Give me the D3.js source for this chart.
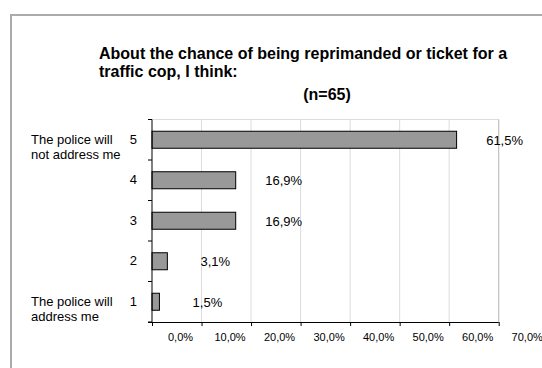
<!DOCTYPE html>
<html>
<head>
<meta charset="utf-8">
<script src="https://cdn.jsdelivr.net/npm/d3@7"></script>
<style>
  html, body { margin: 0; padding: 0; background: #fff; }
  svg { display: block; font-family: "Liberation Sans", Arial, sans-serif; }
</style>
</head>
<body>
<svg id="chart" width="542" height="368"></svg>
<script>
// Survey answers on a 1..5 scale, share of respondents (%)
const categories = ["5", "4", "3", "2", "1"];
const values = [61.5, 16.9, 16.9, 3.1, 1.5];
const valueLabels = ["61,5%", "16,9%", "16,9%", "3,1%", "1,5%"];
const endLabels = { "5": ["The police will", "not address me"], "1": ["The police will", "address me"] };
const xTicks = [0, 10, 20, 30, 40, 50, 60, 70];
const xTickLabels = ["0,0%", "10,0%", "20,0%", "30,0%", "40,0%", "50,0%", "60,0%", "70,0%"];
const titleLines = ["About the chance of being reprimanded or ticket for a", "traffic cop, I think:"];
const subtitle = "(n=65)";

const svg = d3.select("#chart");

// Outer chart frame (continues past the right and bottom edges)
svg.append("path")
  .attr("d", "M11,380 V15 H560")
  .attr("fill", "none")
  .attr("stroke", "#ababab")
  .attr("stroke-width", 2);

const plot = { left: 152, right: 498.7, top: 119.5, bottom: 322 };

const x = d3.scaleLinear().domain([0, 70]).range([plot.left, plot.right]);
const y = d3.scaleBand().domain(categories).range([plot.top, plot.bottom])
  .paddingInner(0.58).paddingOuter(0.29);

// Title
const title = svg.append("g").attr("font-weight", "bold").attr("font-size", 16).attr("fill", "#000");
title.selectAll("text.t").data(titleLines).join("text")
  .attr("class", "t")
  .attr("x", 99)
  .attr("y", (d, i) => 59 + i * 18)
  .text(d => d);
title.append("text")
  .attr("x", 327).attr("y", 100)
  .attr("text-anchor", "middle")
  .text(subtitle);

// Vertical gridlines
svg.append("g").selectAll("line").data(xTicks.filter(t => t > 0 && t < 70)).join("line")
  .attr("x1", d => x(d)).attr("x2", d => x(d))
  .attr("y1", plot.top).attr("y2", plot.bottom)
  .attr("stroke", "#dcdcdc").attr("stroke-width", 1);

// Plot area border (top and right)
svg.append("path")
  .attr("d", `M${plot.left},${plot.top} H${plot.right} V${plot.bottom}`)
  .attr("fill", "none").attr("stroke", "#dcdcdc").attr("stroke-width", 1);
svg.append("line")
  .attr("x1", plot.right).attr("x2", plot.right)
  .attr("y1", plot.top).attr("y2", plot.bottom)
  .attr("stroke", "#bdbdbd");

// Bars
svg.append("g").selectAll("rect").data(categories).join("rect")
  .attr("x", x(0))
  .attr("y", d => y(d))
  .attr("width", (d, i) => x(values[i]) - x(0))
  .attr("height", y.bandwidth())
  .attr("fill", "#999999")
  .attr("stroke", "#000")
  .attr("stroke-width", 1);

// Value labels
svg.append("g").attr("font-size", 13).attr("fill", "#000")
  .selectAll("text").data(categories).join("text")
  .attr("x", (d, i) => x(values[i]) + 48)
  .attr("y", d => y(d) + y.bandwidth() / 2 + 5)
  .attr("text-anchor", "middle")
  .text((d, i) => valueLabels[i]);

// X axis with labels set half a step to the right of each tick
const xAxis = d3.axisBottom(x).tickValues(xTicks).tickSize(4)
  .tickFormat((d, i) => xTickLabels[i]);
const gx = svg.append("g")
  .attr("transform", `translate(0,${plot.bottom})`)
  .call(xAxis);
gx.select(".domain").attr("d", `M${plot.left - 4},0.5H${plot.right}`).attr("stroke", "#000");
gx.selectAll(".tick line").attr("stroke", "#000");
gx.selectAll(".tick text")
  .attr("font-family", "Liberation Sans, Arial, sans-serif")
  .attr("font-size", 11)
  .attr("fill", "#000")
  .attr("dx", 28)
  .attr("y", 19)
  .attr("dy", 0);

// Y axis: ticks at category boundaries
const boundaries = d3.range(categories.length + 1).map(i => plot.top + i * y.step());
svg.append("line")
  .attr("x1", plot.left).attr("x2", plot.left)
  .attr("y1", plot.top).attr("y2", plot.bottom)
  .attr("stroke", "#000");
svg.append("g").selectAll("line").data(boundaries).join("line")
  .attr("x1", plot.left - 4).attr("x2", plot.left)
  .attr("y1", d => d).attr("y2", d => d)
  .attr("stroke", "#000");

// Category labels
const cat = svg.append("g").attr("font-size", 13).attr("fill", "#000");
cat.selectAll("text.num").data(categories).join("text")
  .attr("class", "num")
  .attr("x", 137)
  .attr("y", d => y(d) + y.bandwidth() / 2 + 4)
  .attr("text-anchor", "end")
  .text(d => d);
categories.filter(c => endLabels[c]).forEach(c => {
  cat.selectAll(null).data(endLabels[c]).join("text")
    .attr("x", 31)
    .attr("y", (d, i) => y(c) + y.bandwidth() / 2 + 4 + i * 15)
    .text(d => d);
});
</script>
</body>
</html>
